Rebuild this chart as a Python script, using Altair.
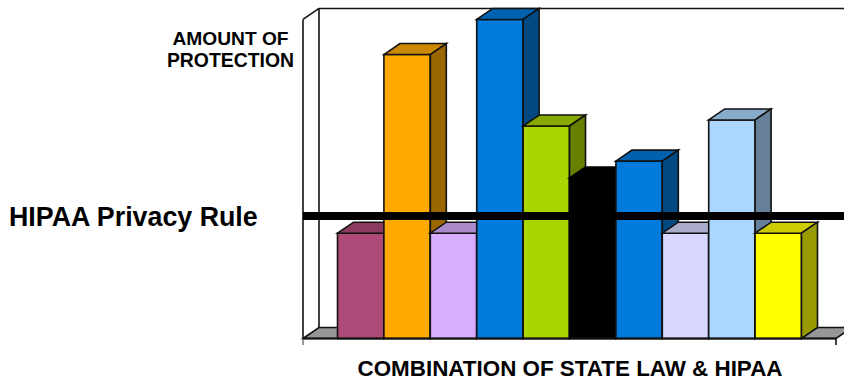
import altair as alt
import pandas as pd

# Protection level of each state-law and HIPAA combination
heights = [33, 89, 33, 100, 66.6, 50.3, 55.6, 33, 68.5, 33]
fronts = ["#AD4A77", "#FFAA00", "#D6ADFF", "#007ADB", "#AAD500",
          "#000000", "#007ADB", "#D6D6FF", "#AAD6FF", "#FFFF00"]
tops = ["#8A3B5F", "#CC8800", "#AB8ACC", "#0062AF", "#88AA00",
        "#000000", "#0062AF", "#ABABCC", "#88ABCC", "#CCCC00"]
sides = ["#682D47", "#996600", "#806799", "#004983", "#668000",
         "#000000", "#004983", "#808099", "#668099", "#999900"]
hipaa_level = 38.4
wall_top = 100

# Axis frame and oblique depth, in data units (one unit of x is one bar)
x_domain = [-7.274, 10.916]
y_domain = [-13.95, 106.1]
axis_left, axis_right = -0.744, 10.743
depth_x, depth_y = 0.345, 3.45
tick_low = -2

X = alt.Scale(domain=x_domain, nice=False, zero=False)
Y = alt.Scale(domain=y_domain, nice=False, zero=False)
x_enc = alt.X("x:Q", scale=X, axis=None)
y_enc = alt.Y("y:Q", scale=Y, axis=None)
x2_enc = alt.X2("x2:Q")
y2_enc = alt.Y2("y2:Q")
EDGE = "#111111"
EDGE_WIDTH = 1.6


def face(rows, fill, edge=EDGE):
    return alt.Chart(pd.DataFrame(rows, columns=["x", "y", "y2"])).mark_area(
        fill=fill, stroke=edge, strokeWidth=EDGE_WIDTH, clip=True, interpolate="linear"
    ).encode(x=x_enc, y=y_enc, y2=y2_enc)


def segment(x0, y0, x1, y1, width=EDGE_WIDTH, color=EDGE):
    data = pd.DataFrame({"x": [x0, x1], "y": [y0, y1], "o": [0, 1]})
    return alt.Chart(data).mark_line(
        stroke=color, strokeWidth=width, clip=True
    ).encode(x=x_enc, y=y_enc, order="o:Q")


def bar_layers(i, h, front, top, side):
    edge = "#000000" if front == "#000000" else EDGE
    front_df = pd.DataFrame({"x": [i], "x2": [i + 1], "y": [0], "y2": [h]})
    return [
        alt.Chart(front_df).mark_rect(
            fill=front, stroke=edge, strokeWidth=EDGE_WIDTH
        ).encode(x=x_enc, x2=x2_enc, y=y_enc, y2=y2_enc),
        face([(i, h, h), (i + depth_x, h + depth_y, h),
              (i + 1, h + depth_y, h),
              (i + 1 + depth_x, h + depth_y, h + depth_y)], top, edge),
        face([(i + 1, h, 0), (i + 1 + depth_x, h + depth_y, depth_y)], side, edge),
    ]


def label(text, x, y, size, align="center"):
    return alt.Chart(pd.DataFrame({"t": [text]})).mark_text(
        font="Liberation Sans", fontWeight="bold", fontSize=size,
        align=align, baseline="middle", color="#000000"
    ).encode(x=alt.value(x), y=alt.value(y), text="t:N")


layers = [
    # Floor and walls of the box
    face([(axis_left, 0, 0), (axis_left + depth_x, depth_y, 0),
          (axis_right, depth_y, 0),
          (axis_right + depth_x, depth_y, depth_y)], "#969696"),
    segment(axis_left, wall_top, axis_left, 0),
    segment(axis_left, wall_top, axis_left + depth_x, wall_top + depth_y),
    segment(axis_left + depth_x, wall_top + depth_y, axis_left + depth_x, depth_y),
    segment(axis_left + depth_x, wall_top + depth_y, x_domain[1], wall_top + depth_y),
    segment(axis_left, 0, axis_left, tick_low, color="#808080"),
    segment(axis_right, 0, axis_right, tick_low),
]
for idx, (h, f, t, s) in enumerate(zip(heights, fronts, tops, sides)):
    layers += bar_layers(idx, h, f, t, s)

layers += [
    segment(axis_left, 0, axis_right, 0, width=1.8),
    segment(axis_left, hipaa_level, x_domain[1], hipaa_level, width=8, color="#000000"),
    label("AMOUNT OF", 230.5, 38.5, 19.2),
    label("PROTECTION", 230.5, 61, 19.4),
    label("HIPAA Privacy Rule", 9, 218, 26.8, align="left"),
    label("COMBINATION OF STATE LAW & HIPAA", 570, 369, 22.4),
]

chart = alt.layer(*layers).properties(
    width=844, height=383, padding=0, background="#ffffff"
).configure_view(stroke=None)

chart.save("out.html", embed_options={"renderer": "svg", "actions": False})
